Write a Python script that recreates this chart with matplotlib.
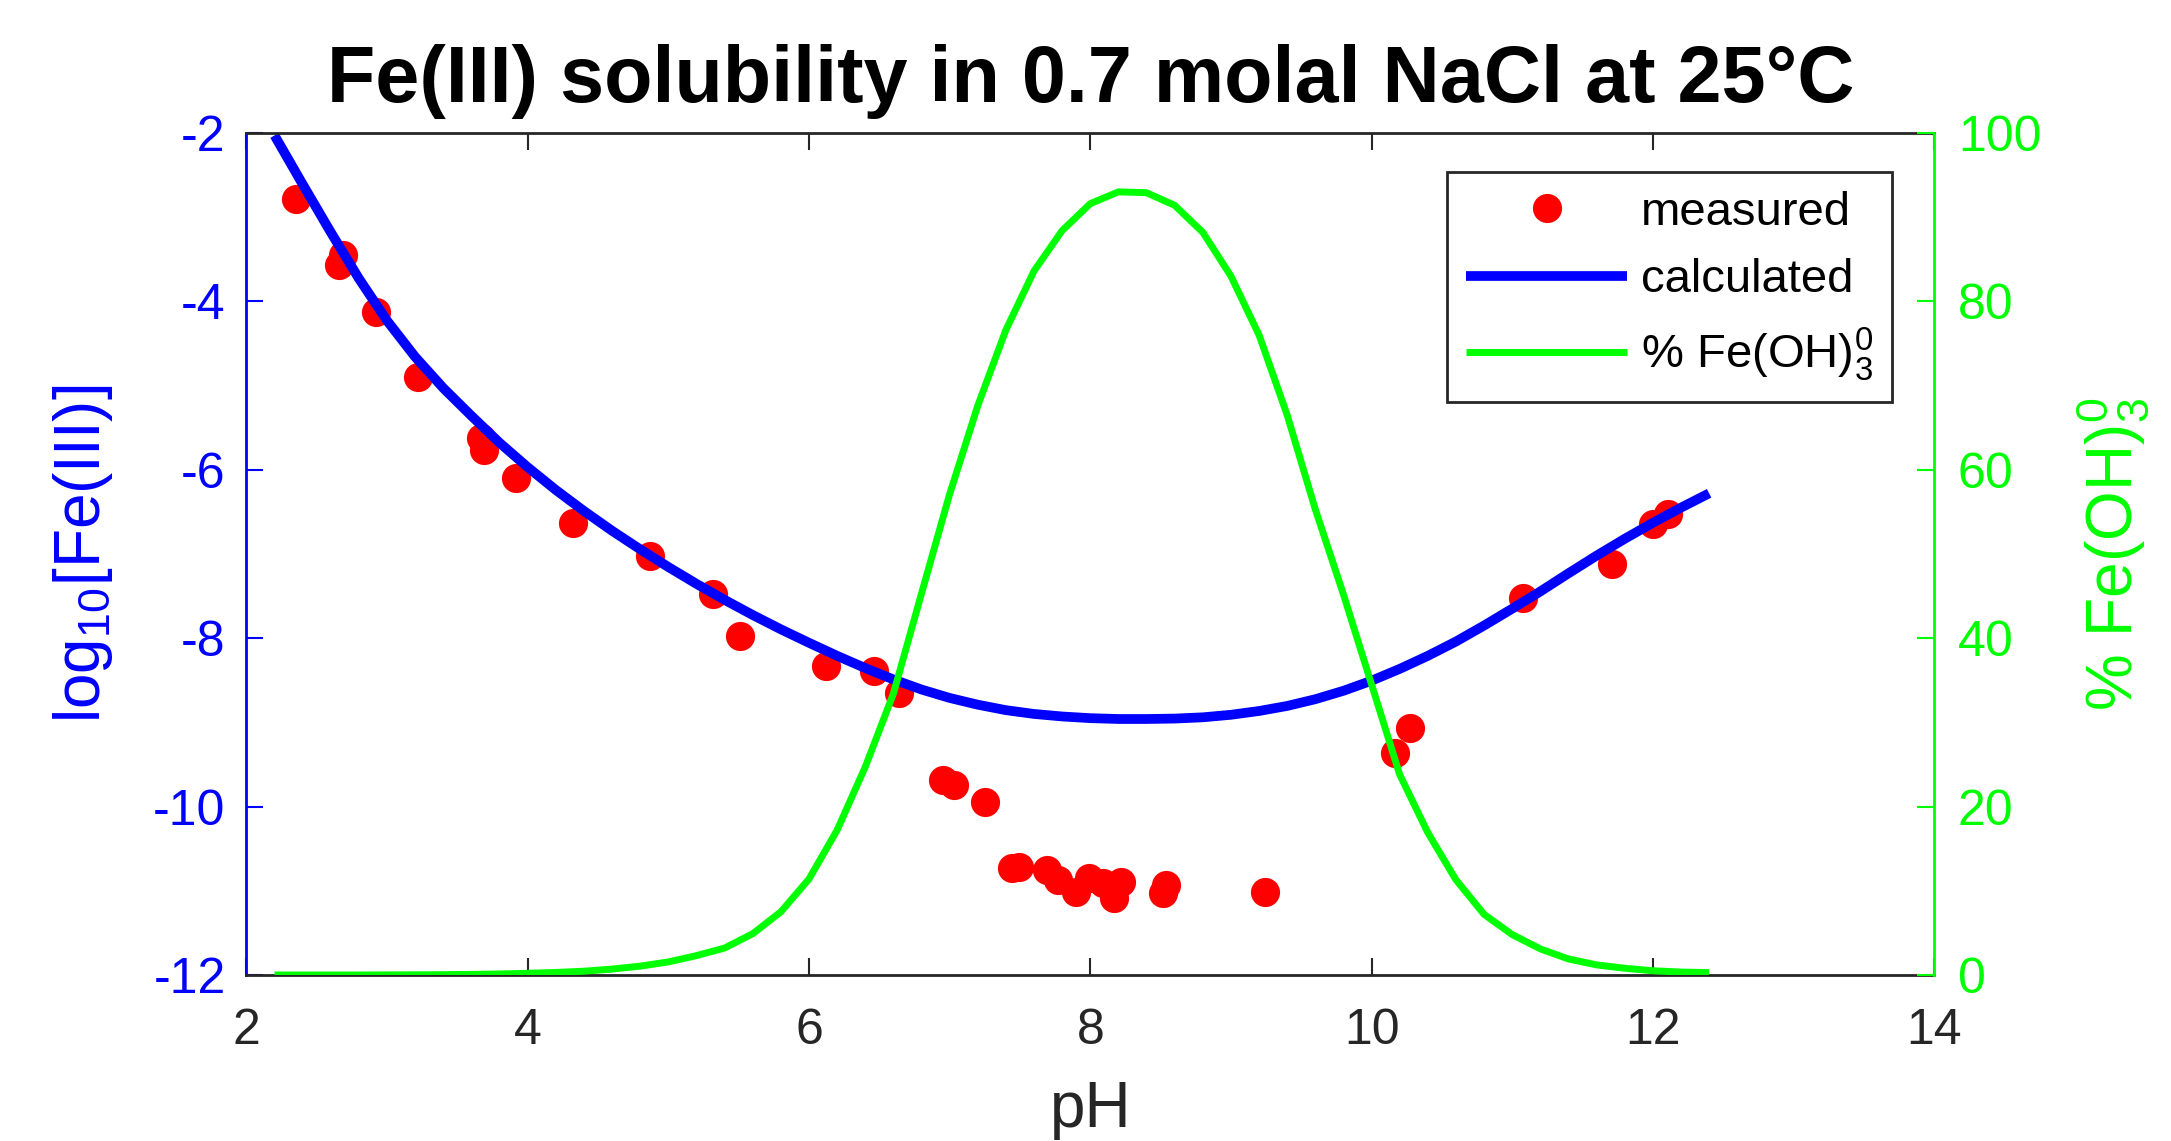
import matplotlib
matplotlib.use("Agg")
import matplotlib.pyplot as plt

plt.rcParams['font.family'] = ['Liberation Sans', 'DejaVu Sans']
plt.rcParams['mathtext.fontset'] = 'custom'
plt.rcParams['mathtext.rm'] = 'Liberation Sans'
plt.rcParams['mathtext.it'] = 'Liberation Sans'
plt.rcParams['axes.unicode_minus'] = False

# mediciones (pH, log10[Fe(III)])
ph_med = [2.35, 2.66, 2.69, 2.92, 3.22, 3.67, 3.69, 3.92, 4.32, 4.87, 5.32, 5.51,
          6.12, 6.46, 6.64, 6.95, 7.03, 7.25, 7.44, 7.49, 7.69, 7.77, 7.90, 7.99,
          8.09, 8.17, 8.22, 8.52, 8.54, 9.24, 10.17, 10.27, 11.08, 11.71, 12.00, 12.11]
fe_med = [-2.78, -3.57, -3.45, -4.13, -4.90, -5.62, -5.76, -6.10, -6.63, -7.03, -7.47, -7.98,
          -8.33, -8.39, -8.65, -9.68, -9.74, -9.95, -10.73, -10.72, -10.75, -10.87, -11.01, -10.85,
          -10.91, -11.09, -10.89, -11.03, -10.93, -11.01, -9.36, -9.07, -7.52, -7.12, -6.65, -6.53]

# curva calculada, pH 2.2 .. 12.4
ph_calc = [2.2, 2.4, 2.6, 2.8, 3.0, 3.2, 3.4, 3.6, 3.8, 4.0, 4.2, 4.4, 4.6, 4.8, 5.0,
           5.2, 5.4, 5.6, 5.8, 6.0, 6.2, 6.4, 6.6, 6.8, 7.0, 7.2, 7.4, 7.6, 7.8, 8.0,
           8.2, 8.4, 8.6, 8.8, 9.0, 9.2, 9.4, 9.6, 9.8, 10.0, 10.2, 10.4, 10.6, 10.8,
           11.0, 11.2, 11.4, 11.6, 11.8, 12.0, 12.2, 12.4]
fe_calc = [-2.03, -2.61, -3.18, -3.73, -4.23, -4.66, -5.03, -5.36, -5.68, -5.97, -6.24,
           -6.49, -6.725, -6.945, -7.155, -7.355, -7.545, -7.725, -7.895, -8.055, -8.21,
           -8.355, -8.49, -8.61, -8.71, -8.79, -8.855, -8.90, -8.93, -8.95, -8.96, -8.96,
           -8.955, -8.94, -8.91, -8.865, -8.805, -8.725, -8.625, -8.505, -8.365, -8.21,
           -8.04, -7.85, -7.65, -7.445, -7.23, -7.02, -6.82, -6.63, -6.45, -6.28]
pct_feoh3 = [0.0, 0.0, 0.0, 0.0, 0.01, 0.02, 0.04, 0.07, 0.12, 0.2, 0.3, 0.45, 0.7,
             1.05, 1.55, 2.3, 3.2, 4.9, 7.5, 11.4, 17.2, 24.7, 33.4, 45.3, 57.1, 67.6,
             76.6, 83.6, 88.4, 91.6, 93.0, 92.9, 91.4, 88.2, 83.0, 76.0, 66.5, 55.3,
             45.2, 34.5, 23.8, 16.9, 11.3, 7.2, 4.8, 3.1, 1.9, 1.2, 0.8, 0.5, 0.35, 0.28]

azul = (0, 0, 1)
verde = (0, 1, 0)
gris = (0.15, 0.15, 0.15)

fig = plt.figure(figsize=(21.71, 11.41), dpi=100)
ax = fig.add_axes([0.1135, 0.1455, 0.7774, 0.7380])
ax2 = ax.twinx()

p1, = ax.plot(ph_med, fe_med, 'o', color='red', markersize=21, markeredgewidth=0,
              label='measured')
p2, = ax.plot(ph_calc, fe_calc, '-', color=azul, linewidth=7, label='calculated',
              solid_capstyle='butt', solid_joinstyle='round')
p3, = ax2.plot(ph_calc, pct_feoh3, '-', color=verde, linewidth=5,
               label=r'% Fe(OH)$_3^0$', solid_capstyle='butt')

ax.set_xlim(2, 14)
ax.set_ylim(-12, -2)
ax2.set_ylim(0, 100)
ax.set_xticks([2, 4, 6, 8, 10, 12, 14])
ax.set_yticks([-12, -10, -8, -6, -4, -2])
ax2.set_yticks([0, 20, 40, 60, 80, 100])

# ejes
for lado in ['top', 'bottom']:
    ax.spines[lado].set_color(gris)
    ax.spines[lado].set_linewidth(2)
    ax2.spines[lado].set_visible(False)
ax.spines['left'].set_color(azul)
ax.spines['left'].set_linewidth(2)
ax.spines['right'].set_visible(False)
ax2.spines['left'].set_visible(False)
ax2.spines['right'].set_color(verde)
ax2.spines['right'].set_linewidth(2)

ax.tick_params(axis='x', direction='in', top=True, length=12, width=1.5,
               color=gris, labelcolor=gris, labelsize=36, pad=24)
ax.tick_params(axis='y', direction='in', left=True, right=False, length=12, width=1.5,
               color=azul, labelcolor=azul, labelsize=36, pad=15)
ax2.tick_params(axis='y', direction='in', length=12, width=1.5,
                color=verde, labelcolor=verde, labelsize=36, pad=17)

ax.set_title('Fe(III) solubility in 0.7 molal NaCl at 25°C', fontsize=57,
             fontweight='bold', pad=22)
ax.set_xlabel('pH', fontsize=46, color=gris)
ax.xaxis.set_label_coords(0.5, -0.125)
ax.set_ylabel(r'log$_{10}$[Fe(III)]', fontsize=46, color=azul)
ax.yaxis.set_label_coords(-0.078, 0.5)
ax2.set_ylabel(r'% Fe(OH)$_3^0$', fontsize=46, color=verde)
ax2.yaxis.set_label_coords(1.083, 0.5)

leg = ax2.legend(handles=[p1, p2, p3], loc='upper right', bbox_to_anchor=(0.975, 0.954),
                 fontsize=34, handlelength=3.4, handletextpad=0.3, borderaxespad=0,
                 fancybox=False, framealpha=1, edgecolor=gris, labelspacing=0.5,
                 borderpad=0.4)
leg.get_frame().set_linewidth(2)

fig.savefig('out.png', dpi=100)
